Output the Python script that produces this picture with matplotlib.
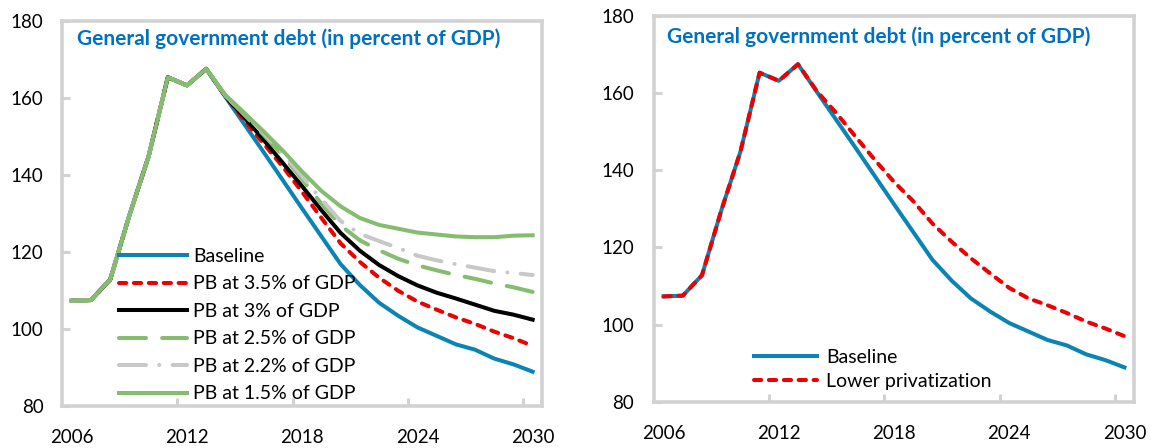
import matplotlib
matplotlib.use('Agg')
import matplotlib.pyplot as plt
from matplotlib.ticker import FixedLocator

plt.rcParams['font.family'] = ['Lato', 'DejaVu Sans']

# Years on the category axis
years = list(range(2006, 2031))

# Outturn 2006-2013, shared by every scenario
history = [107.3, 107.5, 112.8, 129.5, 144.8, 165.3, 163.2, 167.5]

# Projections 2014-2030 (percent of GDP)
baseline_proj = [160.2, 153.0, 145.8, 138.5, 131.2, 124.0, 116.8, 111.4, 106.8,
                 103.4, 100.4, 98.2, 96.0, 94.6, 92.3, 90.8, 88.9]
pb35_proj = [160.4, 154.0, 148.0, 142.0, 135.5, 128.8, 122.2, 117.4, 113.3,
             109.9, 107.1, 105.0, 103.0, 101.3, 99.3, 97.6, 95.6]
pb30_proj = [160.4, 154.8, 149.0, 143.0, 137.0, 130.8, 124.9, 120.3, 116.6,
             113.7, 111.3, 109.4, 107.9, 106.3, 104.7, 103.7, 102.4]
pb25_proj = [160.5, 155.5, 150.3, 145.0, 138.8, 132.5, 126.8, 123.0, 120.4,
             118.2, 116.5, 115.2, 114.0, 113.0, 111.8, 110.8, 109.6]
pb22_proj = [160.5, 155.8, 150.8, 145.5, 139.6, 133.6, 128.0, 124.7, 122.8,
             121.0, 119.0, 117.8, 116.8, 115.9, 115.0, 114.5, 114.0]
pb15_proj = [160.7, 156.0, 151.2, 146.2, 140.8, 135.8, 131.8, 128.8, 127.0,
             126.0, 125.0, 124.5, 124.0, 123.8, 123.8, 124.2, 124.3]
low_priv_proj = [160.4, 154.8, 148.7, 142.7, 137.0, 132.0, 126.2, 121.5, 117.2,
                 113.3, 109.5, 106.8, 105.0, 103.0, 100.8, 99.0, 97.0]

title = 'General government debt (in percent of GDP)'
year_labels = [2006, 2012, 2018, 2024, 2030]

BLUE = '#0B84B4'
RED = '#EE0000'
GREEN = '#86BC6F'
GRAY = '#C8C8C8'
AXIS_GRAY = '#D2D2D2'
TITLE_BLUE = '#0070C0'
LW = 2.9
TICK_FS = 13.5
LEG_FS = 14
TITLE_FS = 15

fig = plt.figure(figsize=(11.52, 4.48), dpi=100)
ax1 = fig.add_axes([0.0540, 0.0938, 0.4167, 0.8601])
ax2 = fig.add_axes([0.5677, 0.1033, 0.4167, 0.8610])


def style_axes(ax, ypad):
    ax.set_xlim(2005.5, 2030.5)
    ax.set_ylim(80, 180)
    ax.set_yticks(range(80, 181, 20))
    ax.set_xticks(year_labels)
    ax.xaxis.set_minor_locator(FixedLocator([2011.5, 2017.5, 2023.5, 2029.5]))
    for s in ax.spines.values():
        s.set_color(AXIS_GRAY)
        s.set_linewidth(2.6)
    ax.tick_params(axis='x', which='major', length=0, pad=16.5, labelsize=TICK_FS)
    ax.tick_params(axis='x', which='minor', direction='in', length=5.5,
                   width=2.2, color=AXIS_GRAY)
    ax.tick_params(axis='y', direction='in', length=6, width=2.2,
                   color=AXIS_GRAY, pad=ypad, labelsize=TICK_FS)


def full(proj):
    return history + proj


# Left panel: primary balance scenarios
ax1.plot(years, full(baseline_proj), color=BLUE, lw=LW, label='Baseline')
ax1.plot(years, full(pb35_proj), color=RED, lw=LW, dashes=(1.8, 1.9),
         dash_capstyle='round', label='PB at 3.5% of GDP')
ax1.plot(years, full(pb30_proj), color='black', lw=LW, label='PB at 3% of GDP')
ax1.plot(years, full(pb25_proj), color=GREEN, lw=LW, dashes=(6.7, 4.0),
         dash_capstyle='round', label='PB at 2.5% of GDP')
ax1.plot(years, full(pb22_proj), color=GRAY, lw=LW, dashes=(6.7, 3.3, 0.01, 3.3),
         dash_capstyle='round', label='PB at 2.2% of GDP')
ax1.plot(years, full(pb15_proj), color=GREEN, lw=LW, label='PB at 1.5% of GDP')
style_axes(ax1, 13.5)
ax1.text(0.031, 0.952, title, transform=ax1.transAxes, color=TITLE_BLUE,
         fontsize=TITLE_FS, fontweight='bold', va='center', ha='left')
ax1.legend(loc='upper left', bbox_to_anchor=(0.119, 0.41), frameon=False,
           fontsize=LEG_FS, borderpad=0, borderaxespad=0, handlelength=3.5,
           handletextpad=0.3, labelspacing=0.54)

# Right panel: privatization scenario
ax2.plot(years, full(baseline_proj), color=BLUE, lw=LW, label='Baseline')
ax2.plot(years, full(low_priv_proj), color=RED, lw=LW, dashes=(1.8, 1.9),
         dash_capstyle='round', label='Lower privatization')
style_axes(ax2, 14.5)
ax2.text(0.027, 0.946, title, transform=ax2.transAxes, color=TITLE_BLUE,
         fontsize=TITLE_FS, fontweight='bold', va='center', ha='left')
ax2.legend(loc='upper left', bbox_to_anchor=(0.208, 0.136), frameon=False,
           fontsize=LEG_FS, borderpad=0, borderaxespad=0, handlelength=3.25,
           handletextpad=0.45, labelspacing=0.36)

fig.savefig('out.png', dpi=100)
